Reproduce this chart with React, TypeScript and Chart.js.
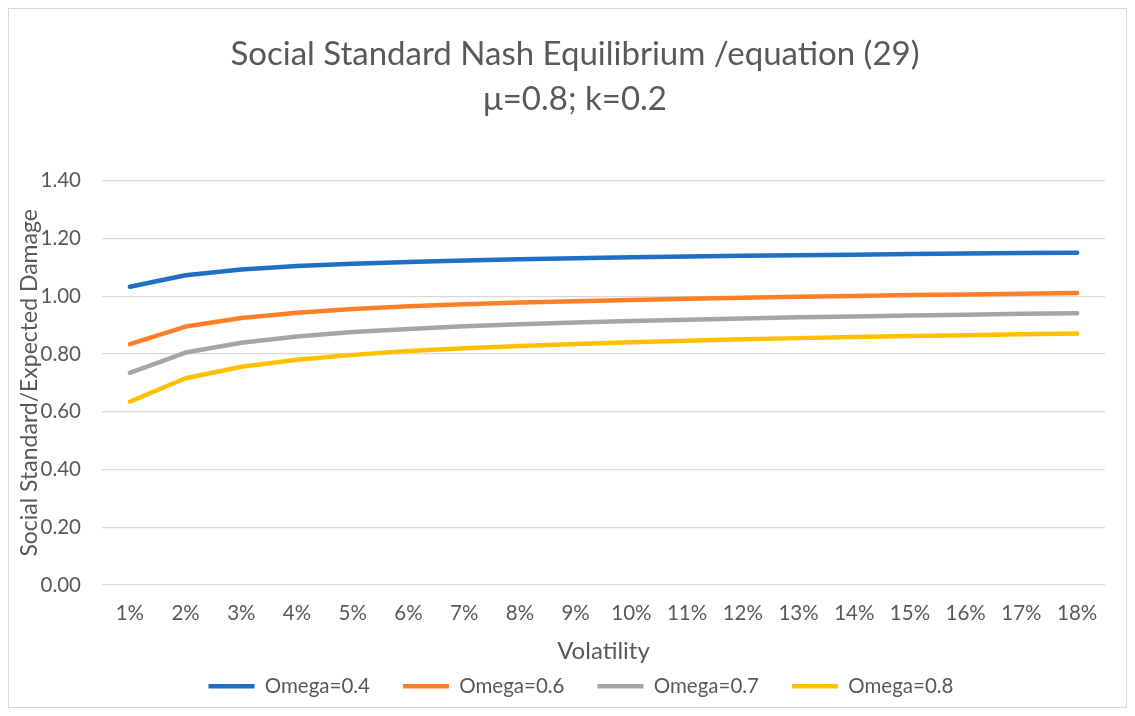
import React, { useEffect, useRef } from "react";
import { Chart, registerables } from "chart.js";

Chart.register(...registerables);

const categories = ["1%", "2%", "3%", "4%", "5%", "6%", "7%", "8%", "9%", "10%", "11%", "12%", "13%", "14%", "15%", "16%", "17%", "18%"];
const omega04 = [1.033, 1.073, 1.093, 1.105, 1.113, 1.119, 1.124, 1.128, 1.132, 1.135, 1.138, 1.140, 1.142, 1.144, 1.146, 1.148, 1.150, 1.151];
const omega06 = [0.834, 0.895, 0.925, 0.943, 0.956, 0.965, 0.972, 0.978, 0.983, 0.987, 0.991, 0.995, 0.998, 1.001, 1.004, 1.006, 1.009, 1.011];
const omega07 = [0.735, 0.805, 0.839, 0.861, 0.876, 0.887, 0.896, 0.903, 0.909, 0.914, 0.919, 0.923, 0.927, 0.930, 0.933, 0.936, 0.939, 0.941];
const omega08 = [0.635, 0.716, 0.756, 0.780, 0.797, 0.810, 0.820, 0.828, 0.835, 0.841, 0.846, 0.851, 0.855, 0.859, 0.862, 0.865, 0.868, 0.871];
const seriesNames = ["Omega=0.4", "Omega=0.6", "Omega=0.7", "Omega=0.8"];
const seriesColors = ["#1f6fc5", "#ff7f27", "#a5a5a5", "#ffc000"];
const titleLines = ["Social Standard Nash Equilibrium /equation (29)", "μ=0.8; k=0.2"];

const FONT = "Lato, 'Liberation Sans', sans-serif";
const TEXT = "#595959";

const boxShift = {
  id: "boxShift",
  afterLayout(chart: any) {
    const lg = chart.legend;
    if (lg) {
      lg.left += 24;
      lg.right += 24;
      lg.top -= 32;
      lg.bottom -= 32;
    }
    const tb = chart.titleBlock;
    if (tb) {
      tb.left += 18;
      tb.right += 18;
    }
  },
};

export default function App() {
  const ref = useRef<HTMLCanvasElement | null>(null);
  useEffect(() => {
    if (!ref.current) return;
    const values = [omega04, omega06, omega07, omega08];
    const chart = new Chart(ref.current, {
      type: "line",
      data: {
        labels: categories,
        datasets: values.map((v, i) => ({
          label: seriesNames[i],
          data: v,
          borderColor: seriesColors[i],
          backgroundColor: seriesColors[i],
          borderWidth: 4.5,
          borderCapStyle: "round",
          borderJoinStyle: "round",
          pointRadius: 0,
          pointHoverRadius: 0,
          pointStyle: "line",
          tension: 0,
        })),
      },
      plugins: [boxShift],
      options: {
        animation: false,
        responsive: false,
        layout: { padding: { left: 0, right: 21, top: 0, bottom: -31.5 } },
        plugins: {
          tooltip: { enabled: false },
          title: {
            display: true,
            text: titleLines,
            color: TEXT,
            font: { family: FONT, size: 33, weight: "normal", lineHeight: 1.36 },
            padding: { top: 23, bottom: 59 },
          },
          legend: {
            position: "bottom",
            labels: {
              color: TEXT,
              font: { family: FONT, size: 20.5 },
              usePointStyle: true,
              pointStyle: "line",
              pointStyleWidth: 46,
              padding: 33,
            },
          },
        },
        scales: {
          x: {
            offset: true,
            grid: { display: false },
            border: { display: false },
            ticks: { color: TEXT, font: { family: FONT, size: 20.5 }, padding: 8, maxRotation: 0 },
            title: { display: true, text: "Volatility", color: TEXT, font: { family: FONT, size: 24 }, padding: { top: 4, bottom: 9 } },
            afterFit: (s: any) => { s.height = 90; },
          },
          y: {
            min: 0,
            max: 1.4,
            ticks: {
              stepSize: 0.2,
              color: TEXT,
              font: { family: FONT, size: 20.5 },
              padding: 21,
              callback: (v: any) => Number(v).toFixed(2),
            },
            grid: { color: "#d9d9d9", lineWidth: 1.3, drawTicks: false },
            border: { display: false },
            title: { display: true, text: "Social Standard/Expected Damage", color: TEXT, font: { family: FONT, size: 23 }, padding: { top: 7, bottom: 0 } },
            afterFit: (s: any) => { s.width = 93; },
          },
        },
      },
    });
    return () => chart.destroy();
  }, []);
  return (
    <div style={{ width: 1117, height: 698, border: "1px solid #d9d9d9", background: "#fff" }}>
      <canvas ref={ref} width={1117} height={698} style={{ display: "block" }} />
    </div>
  );
}
